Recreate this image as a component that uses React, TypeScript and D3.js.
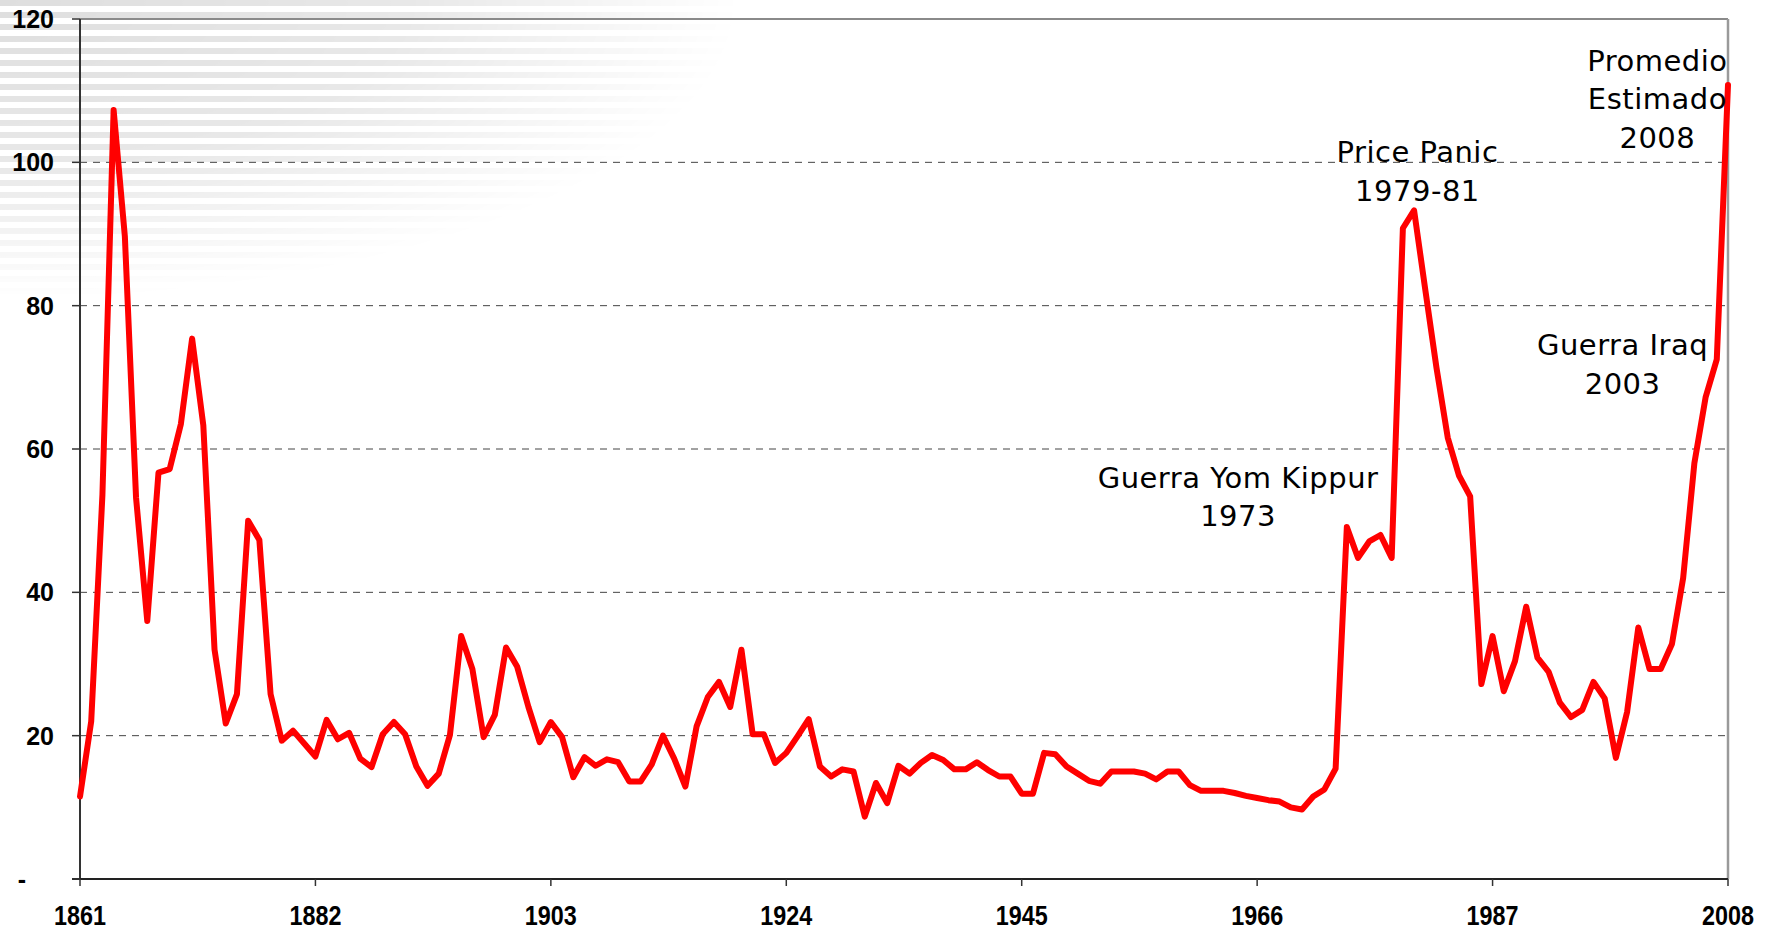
import { useEffect, useRef } from 'react';
import * as d3 from 'd3';

const startYear = 1861;
const prices = [
  11.5, 22.0, 53.6, 107.3, 89.7, 53.2, 36.0, 56.7, 57.2, 63.5,
  75.4, 63.3, 32.0, 21.7, 25.8, 50.0, 47.3, 25.8, 19.3, 20.7,
  18.9, 17.1, 22.2, 19.5, 20.4, 16.8, 15.6, 20.2, 21.9, 20.2,
  15.7, 13.0, 14.7, 20.1, 33.9, 29.3, 19.8, 22.9, 32.3, 29.6,
  24.0, 19.1, 21.9, 19.8, 14.2, 17.0, 15.8, 16.7, 16.3, 13.6,
  13.6, 16.0, 20.0, 16.8, 12.9, 21.3, 25.4, 27.5, 24.0, 32.0,
  20.2, 20.2, 16.2, 17.6, 19.9, 22.3, 15.7, 14.3, 15.3, 15.0,
  8.7, 13.4, 10.6, 15.8, 14.7, 16.2, 17.3, 16.6, 15.3, 15.3,
  16.3, 15.2, 14.3, 14.3, 11.9, 11.9, 17.6, 17.4, 15.7, 14.7,
  13.7, 13.3, 15.0, 15.0, 15.0, 14.7, 13.9, 15.0, 15.0, 13.1,
  12.3, 12.3, 12.3, 12.0, 11.6, 11.3, 11.0, 10.8, 10.0, 9.7,
  11.5, 12.5, 15.4, 49.1, 44.8, 47.1, 48.0, 44.8, 90.8, 93.3,
  82.2, 71.3, 61.6, 56.3, 53.4, 27.2, 33.9, 26.2, 30.4, 38.0,
  30.9, 28.9, 24.6, 22.6, 23.6, 27.5, 25.2, 16.9, 23.3, 35.1,
  29.3, 29.3, 32.8, 42.0, 58.0, 67.2, 72.5, 110.8,
];

const xTickYears = [1861, 1882, 1903, 1924, 1945, 1966, 1987, 2008];
const yTicks = [0, 20, 40, 60, 80, 100, 120];

const annotations = [
  { lines: ['Promedio', 'Estimado', '2008'], year: 2001.7, value: 112.8 },
  { lines: ['Price Panic', '1979-81'], year: 1980.3, value: 100.0 },
  { lines: ['Guerra Iraq', '2003'], year: 1998.6, value: 73.1 },
  { lines: ['Guerra Yom Kippur', '1973'], year: 1964.3, value: 54.6 },
];

export default function App() {
  const svgRef = useRef<SVGSVGElement>(null);

  useEffect(() => {
    if (!svgRef.current) return;
    const svg = d3.select(svgRef.current);
    svg.selectAll('*').remove();

    const width = 1771;
    const height = 931;
    const left = 80;
    const right = 1728;
    const top = 19;
    const bottom = 879;

    const data = prices.map((v, i) => ({ year: startYear + i, value: v }));

    const x = d3.scaleLinear().domain([1861, 2008]).range([left, right]);
    const y = d3.scaleLinear().domain([0, 120]).range([bottom, top]);

    svg.attr('width', width).attr('height', height);

    // Decorative striped background, fading from the top-left corner
    const defs = svg.append('defs');
    const pattern = defs.append('pattern')
      .attr('id', 'stripes')
      .attr('patternUnits', 'userSpaceOnUse')
      .attr('width', 10)
      .attr('height', 12);
    pattern.append('rect')
      .attr('width', 10)
      .attr('height', 6)
      .attr('fill', '#dedede');

    const fade = defs.append('radialGradient')
      .attr('id', 'fade')
      .attr('gradientUnits', 'userSpaceOnUse')
      .attr('cx', 0)
      .attr('cy', 0)
      .attr('r', 1)
      .attr('gradientTransform', 'scale(740,300)');
    fade.append('stop').attr('offset', '0%').attr('stop-color', '#fff').attr('stop-opacity', 1);
    fade.append('stop').attr('offset', '55%').attr('stop-color', '#fff').attr('stop-opacity', 0.7);
    fade.append('stop').attr('offset', '100%').attr('stop-color', '#fff').attr('stop-opacity', 0);

    const mask = defs.append('mask').attr('id', 'fadeMask');
    mask.append('rect')
      .attr('width', 760)
      .attr('height', 310)
      .attr('fill', 'url(#fade)');

    svg.append('rect')
      .attr('width', 760)
      .attr('height', 310)
      .attr('fill', 'url(#stripes)')
      .attr('mask', 'url(#fadeMask)');

    // Gridlines
    svg.append('g')
      .selectAll('line')
      .data(yTicks.filter(t => t > 0 && t < 120))
      .join('line')
      .attr('x1', left)
      .attr('x2', right)
      .attr('y1', d => y(d))
      .attr('y2', d => y(d))
      .attr('stroke', '#444')
      .attr('stroke-width', 1)
      .attr('stroke-dasharray', '7,6');

    // Plot frame: grey top/right, dark axes left/bottom
    svg.append('line')
      .attr('x1', left).attr('x2', right)
      .attr('y1', top).attr('y2', top)
      .attr('stroke', '#8a8a8a').attr('stroke-width', 2);
    svg.append('line')
      .attr('x1', right).attr('x2', right)
      .attr('y1', top).attr('y2', bottom)
      .attr('stroke', '#9a9a9a').attr('stroke-width', 2.5);
    svg.append('line')
      .attr('x1', left).attr('x2', left)
      .attr('y1', top).attr('y2', bottom)
      .attr('stroke', '#333').attr('stroke-width', 2);
    svg.append('line')
      .attr('x1', left - 8).attr('x2', right)
      .attr('y1', bottom).attr('y2', bottom)
      .attr('stroke', '#222').attr('stroke-width', 2);

    // Y ticks and labels
    svg.append('g')
      .selectAll('line')
      .data(yTicks)
      .join('line')
      .attr('x1', left - 8)
      .attr('x2', left)
      .attr('y1', d => y(d))
      .attr('y2', d => y(d))
      .attr('stroke', '#333')
      .attr('stroke-width', 1.5);

    svg.append('g')
      .selectAll('text')
      .data(yTicks)
      .join('text')
      .attr('x', d => (d === 0 ? 22 : 54))
      .attr('y', d => y(d))
      .attr('dy', '0.36em')
      .attr('text-anchor', d => (d === 0 ? 'middle' : 'end'))
      .style('font-family', '"Liberation Sans", Arial, sans-serif')
      .style('font-weight', 'bold')
      .style('font-size', '25px')
      .style('fill', '#000')
      .text(d => (d === 0 ? '-' : String(d)));

    // X ticks and labels
    svg.append('g')
      .selectAll('line')
      .data(xTickYears)
      .join('line')
      .attr('x1', d => x(d))
      .attr('x2', d => x(d))
      .attr('y1', bottom)
      .attr('y2', bottom + 7)
      .attr('stroke', '#333')
      .attr('stroke-width', 1.5);

    // narrow bold year labels
    svg.append('g')
      .selectAll('text')
      .data(xTickYears)
      .join('text')
      .attr('x', d => x(d) - 26)
      .attr('y', 925)
      .attr('textLength', 52)
      .attr('lengthAdjust', 'spacingAndGlyphs')
      .style('font-family', '"Liberation Sans", Arial, sans-serif')
      .style('font-weight', 'bold')
      .style('font-size', '27px')
      .style('fill', '#000')
      .text(d => String(d));

    // Price line
    const line = d3.line<{ year: number; value: number }>()
      .x(d => x(d.year))
      .y(d => y(d.value));

    svg.append('path')
      .datum(data)
      .attr('d', line)
      .attr('fill', 'none')
      .attr('stroke', '#ff0000')
      .attr('stroke-width', 6)
      .attr('stroke-linejoin', 'round')
      .attr('stroke-linecap', 'round');

    // Annotations
    annotations.forEach(a => {
      const t = svg.append('text')
        .attr('x', x(a.year))
        .attr('y', y(a.value))
        .attr('text-anchor', 'middle')
        .style('font-family', '"DejaVu Sans", Verdana, sans-serif')
        .style('font-size', '29px')
        .style('letter-spacing', '0.5px')
        .style('fill', '#000');
      a.lines.forEach((l, i) => {
        t.append('tspan')
          .attr('x', x(a.year))
          .attr('dy', i === 0 ? 0 : 38.5)
          .text(l);
      });
    });
  }, []);

  return (
    <div style={{ position: 'absolute', left: 0, top: 0 }}>
      <svg ref={svgRef} style={{ display: 'block' }} />
    </div>
  );
}
